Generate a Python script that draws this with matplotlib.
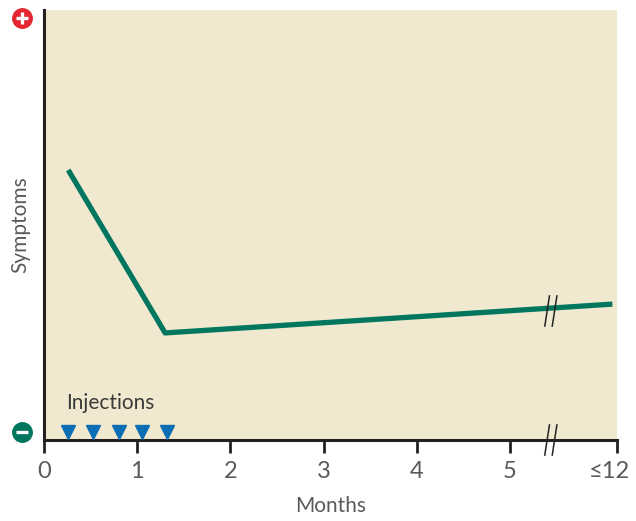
import matplotlib.pyplot as plt
import matplotlib.transforms as mtransforms

# Symptom course over months (symptom level 0 = minus, 1 = plus)
months = [0.26, 1.30, 6.1]
symptoms = [0.628, 0.249, 0.316]

# Injection times (months)
injections = [0.26, 0.53, 0.80, 1.05, 1.32]

tick_pos = [0, 1, 2, 3, 4, 5, 6.15]
tick_labels = ['0', '1', '2', '3', '4', '5', '≤12']

green = '#00765f'
red = '#e32630'
text_col = '#3a3a3a'

plt.rcParams['font.family'] = ['Lato', 'DejaVu Sans']

fig = plt.figure(figsize=(6.36, 5.21), dpi=100)
ax = fig.add_axes([44 / 636, 81 / 521, 573 / 636, 430 / 521])
ax.set_facecolor('#f1e9cf')

ax.plot(months, symptoms, color=green, lw=3.8, solid_capstyle='butt', zorder=3)
ax.plot(injections, [0.019] * len(injections), linestyle='none', marker='v',
        color='#0a6eb4', markersize=10, clip_on=False, zorder=4)
ax.text(injections[0] - 0.02, 0.085, 'Injections', fontsize=15, color=text_col,
        ha='left', va='center')

# axis break marks
brk = 5.44
for yc in [0.30, 0.0]:
    for dx in [-0.04, 0.04]:
        ax.plot([brk + dx - 0.025, brk + dx + 0.025], [yc - 0.035, yc + 0.035],
                color='#222222', lw=1.1, clip_on=False, zorder=5)

ax.set_xlim(0, 6.15)
ax.set_ylim(0, 1)
ax.set_xticks(tick_pos)
ax.set_xticklabels(tick_labels)
ax.set_yticks([])
ax.tick_params(axis='x', direction='out', length=9, width=2, color='#222222',
               labelsize=17, labelcolor='#5a5a5a', pad=6)
last = ax.get_xticklabels()[-1]
last.set_transform(last.get_transform() +
                   mtransforms.ScaledTranslation(-8 / 100, 0, fig.dpi_scale_trans))

for s in ['top', 'right']:
    ax.spines[s].set_visible(False)
for s in ['left', 'bottom']:
    ax.spines[s].set_linewidth(2.2)
    ax.spines[s].set_color('#222222')

ax.set_xlabel('Months', fontsize=15, color='#5a5a5a', labelpad=10)
ax.set_ylabel('Symptoms', fontsize=15, color='#5a5a5a', labelpad=10)

# plus / minus markers
for (yy, c, plus) in [(0.981, red, True), (0.019, green, False)]:
    ax.plot([-0.038], [yy], marker='o', markersize=14, color=c, clip_on=False,
            transform=ax.transAxes, zorder=6)
    ax.plot([-0.038], [yy], marker='_', markersize=9, mew=2.4, color='white',
            clip_on=False, transform=ax.transAxes, zorder=7)
    if plus:
        ax.plot([-0.038], [yy], marker='|', markersize=9, mew=2.4, color='white',
                clip_on=False, transform=ax.transAxes, zorder=7)

fig.savefig('out.png', dpi=100)
